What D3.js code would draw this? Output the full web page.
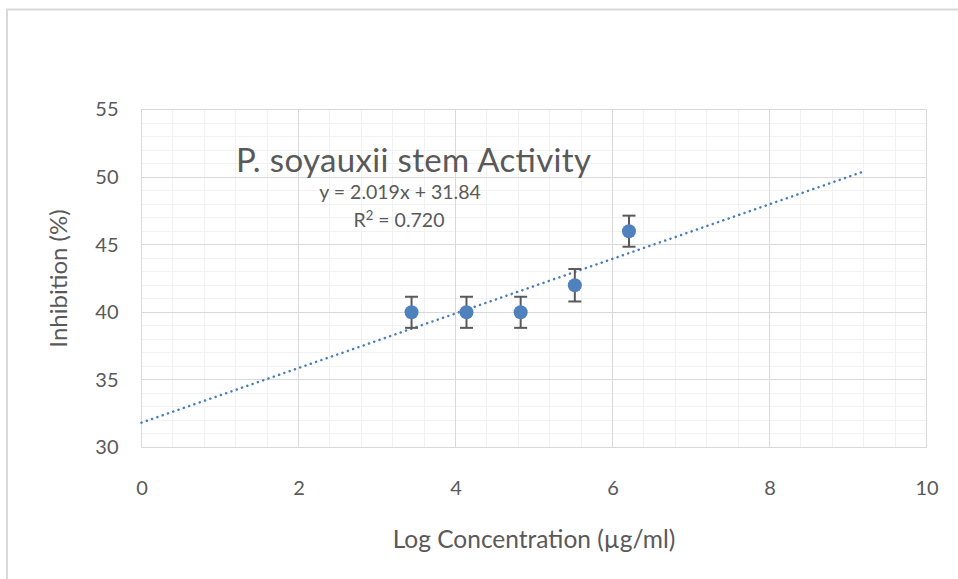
<!DOCTYPE html>
<meta charset="utf-8">
<style>
body { margin: 0; background: #fff; }
text { font-family: Lato, "Open Sans", sans-serif; fill: #595959; }
.grid-minor line { stroke: #f2f2f2; stroke-width: 1px; }
.grid-major line { stroke: #d9d9d9; stroke-width: 1px; }
.trend { fill: none; stroke: #4a7ebb; stroke-width: 2.5px; stroke-dasharray: 0.1 5.5; stroke-linecap: round; }
.err { stroke: #595959; stroke-width: 2px; }
.dot { fill: #4f81bd; }
</style>
<svg width="958" height="579"></svg>
<script src="https://d3js.org/d3.v7.min.js"></script>
<script>

// data
var logConc = [3.44, 4.14, 4.83, 5.52, 6.21];
var inhibition = [40, 40, 40, 42, 46];
var errors = [1.15, 1.15, 1.15, 1.2, 1.15];
var xTicks = [0, 2, 4, 6, 8, 10];
var yTicks = [30, 35, 40, 45, 50, 55];
var slope = 2.019, intercept = 31.84;
var trendExtent = [0, 9.2];

var svg = d3.select("svg"),
    margin = {top: 109.5, right: 31.5, bottom: 131.5, left: 141.5},
    width = +svg.attr("width") - margin.left - margin.right,
    height = +svg.attr("height") - margin.top - margin.bottom;

// chart frame
svg.append("rect")
  .attr("x", 7).attr("y", 9.5)
  .attr("width", 980).attr("height", 600)
  .attr("fill", "none").attr("stroke", "#d9d9d9").attr("stroke-width", 2);

var g = svg.append("g").attr("transform", "translate(" + margin.left + "," + margin.top + ")");

var x = d3.scaleLinear().domain([0, 10]).range([0, width]);
var y = d3.scaleLinear().domain([30, 55]).range([height, 0]);

var xMinor = d3.range(0, 10.001, 0.4);
var yMinor = d3.range(30, 55.001, 1);

g.append("g").attr("class", "grid-minor")
  .selectAll("line").data(xMinor).enter().append("line")
  .attr("x1", d => Math.round(x(d))).attr("x2", d => Math.round(x(d)))
  .attr("y1", 0).attr("y2", height);
g.append("g").attr("class", "grid-minor")
  .selectAll("line").data(yMinor).enter().append("line")
  .attr("y1", d => Math.round(y(d))).attr("y2", d => Math.round(y(d)))
  .attr("x1", 0).attr("x2", width);

g.append("g").attr("class", "grid-major")
  .selectAll("line").data(xTicks).enter().append("line")
  .attr("x1", d => Math.round(x(d))).attr("x2", d => Math.round(x(d)))
  .attr("y1", 0).attr("y2", height);
g.append("g").attr("class", "grid-major")
  .selectAll("line").data(yTicks).enter().append("line")
  .attr("y1", d => Math.round(y(d))).attr("y2", d => Math.round(y(d)))
  .attr("x1", 0).attr("x2", width);

// axes (labels only)
var yAxis = g.append("g")
  .call(d3.axisLeft(y).tickValues(yTicks).tickSize(0).tickPadding(23));
yAxis.select(".domain").remove();
yAxis.selectAll("text").style("font-size", "20px").attr("fill", "#595959");

var xAxis = g.append("g")
  .attr("transform", "translate(0," + height + ")")
  .call(d3.axisBottom(x).tickValues(xTicks).tickSize(0).tickPadding(33));
xAxis.select(".domain").remove();
xAxis.selectAll("text").style("font-size", "20px").attr("fill", "#595959");

// axis titles
svg.append("text")
  .attr("transform", "translate(67," + (margin.top + height / 2) + ") rotate(-90)")
  .attr("text-anchor", "middle")
  .style("font-size", "24px")
  .text("Inhibition (%)");

svg.append("text")
  .attr("x", margin.left + width / 2)
  .attr("y", 548)
  .attr("text-anchor", "middle")
  .style("font-size", "24.5px")
  .text("Log Concentration (µg/ml)");

// trendline
var line = d3.line()
  .x(d => x(d))
  .y(d => y(slope * d + intercept));
g.append("path").datum(trendExtent)
  .attr("class", "trend")
  .attr("d", line);

// error bars
var pts = logConc.map((v, i) => ({x: v, y: inhibition[i], e: errors[i]}));
var eb = g.append("g").selectAll("g").data(pts).enter().append("g");
eb.append("line").attr("class", "err")
  .attr("x1", d => x(d.x)).attr("x2", d => x(d.x))
  .attr("y1", d => y(d.y + d.e)).attr("y2", d => y(d.y - d.e));
eb.append("line").attr("class", "err")
  .attr("x1", d => x(d.x) - 6.5).attr("x2", d => x(d.x) + 6.5)
  .attr("y1", d => y(d.y + d.e)).attr("y2", d => y(d.y + d.e));
eb.append("line").attr("class", "err")
  .attr("x1", d => x(d.x) - 6.5).attr("x2", d => x(d.x) + 6.5)
  .attr("y1", d => y(d.y - d.e)).attr("y2", d => y(d.y - d.e));

// points
g.append("g").selectAll("circle").data(pts).enter().append("circle")
  .attr("class", "dot")
  .attr("cx", d => x(d.x)).attr("cy", d => y(d.y))
  .attr("r", 7);

// title and trendline label
svg.append("text")
  .attr("x", 236).attr("y", 172)
  .attr("textLength", 355)
  .style("font-size", "33px")
  .text("P. soyauxii stem Activity");

svg.append("text")
  .attr("x", 400).attr("y", 199)
  .attr("text-anchor", "middle")
  .style("font-size", "19.5px")
  .text("y = " + slope.toFixed(3) + "x + " + intercept.toFixed(2));

svg.append("text")
  .attr("x", 399).attr("y", 227)
  .attr("text-anchor", "middle")
  .style("font-size", "19.5px")
  .html("R<tspan dy='-7' font-size='13'>2</tspan><tspan dy='7'> = 0.720</tspan>");

</script>
